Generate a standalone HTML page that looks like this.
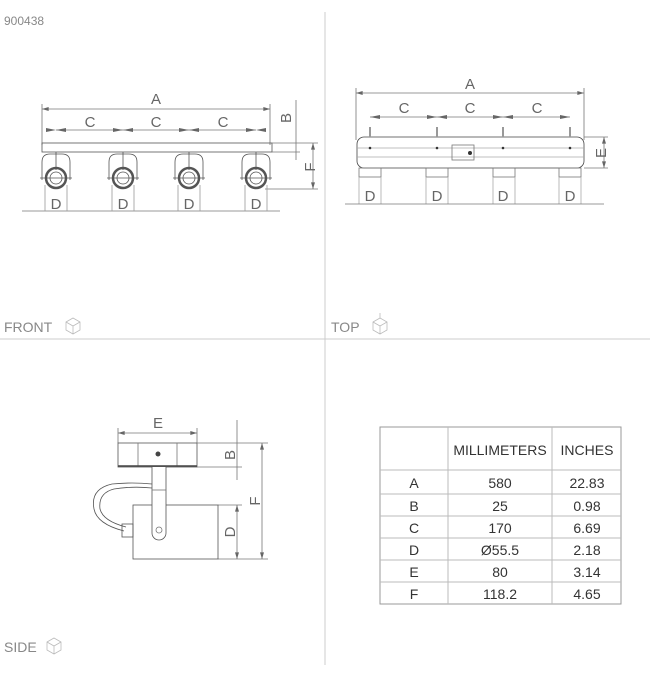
<!DOCTYPE html>
<html><head><style>
body{margin:0;background:#fff;}
svg{display:block;font-family:"Liberation Sans",sans-serif;}
</style></head><body>
<svg width="650" height="677" viewBox="0 0 650 677" xmlns="http://www.w3.org/2000/svg">
<defs>
<marker id="a" viewBox="0 0 10 6" refX="10" refY="3" markerWidth="10" markerHeight="4" orient="auto-start-reverse" markerUnits="userSpaceOnUse"><path d="M0,0 L10,3 L0,6z" fill="#666"/></marker>
</defs>
<g stroke="#ccc" stroke-width="1"><line x1="325" y1="12" x2="325" y2="665"/><line x1="0" y1="339" x2="650" y2="339"/></g>
<text x="4" y="25" font-size="12" fill="#888">900438</text>
<g font-size="14" fill="#888"><text x="4" y="332">FRONT</text><text x="331" y="332">TOP</text><text x="4" y="652">SIDE</text></g>
<g fill="none" stroke="#bbb" stroke-width="0.8"><path d="M66,322 l7,-4 l7,4 v8 l-7,4 l-7,-4z M66,322 l7,4 l7,-4 M73,326 v8"/><path d="M373,322 l7,-4 l7,4 v8 l-7,4 l-7,-4z M373,322 l7,4 l7,-4 M380,326 v8 M380,318 v-5"/><path d="M47,642 l7,-4 l7,4 v8 l-7,4 l-7,-4z M47,642 l7,4 l7,-4 M54,646 v8"/></g>

<!-- FRONT -->
<g stroke="#777" stroke-width="0.8" fill="none">
<line x1="42" y1="109" x2="270" y2="109" marker-start="url(#a)" marker-end="url(#a)"/>
<line x1="42" y1="104" x2="42" y2="145"/><line x1="270" y1="104" x2="270" y2="145"/>
<line x1="56" y1="130" x2="256" y2="130"/>
<path d="M56,130 l-10,-2 v4z M123,130 l10,-2 v4z M123,130 l-10,-2 v4z M189,130 l10,-2 v4z M189,130 l-10,-2 v4z M256,130 l10,-2 v4z" fill="#666" stroke="none"/>
<path d="M56,130 l10,-2 v4z M256,130 l-10,-2 v4z" fill="#666" stroke="none"/>
<rect x="42" y="143" width="230" height="9" stroke="#555"/>
<line x1="296" y1="100" x2="296" y2="160"/>
<line x1="272" y1="143" x2="318" y2="143"/><line x1="272" y1="152" x2="300" y2="152"/>
<line x1="313" y1="143" x2="313" y2="189" marker-start="url(#a)" marker-end="url(#a)"/>
<line x1="265" y1="189" x2="318" y2="189"/>
<line x1="22" y1="211" x2="280" y2="211"/>
</g>
<g stroke="#555" stroke-width="0.8" fill="none">
<g id="lamp"><path d="M42,180 v-18 q0,-8 8,-8 h12 q8,0 8,8 v18"/><line x1="56" y1="152" x2="56" y2="170"/><circle cx="56" cy="178" r="10" stroke-width="2.5"/><circle cx="56" cy="178" r="6"/><line x1="40" y1="178" x2="72" y2="178"/><line x1="45" y1="185" x2="45" y2="211" stroke="#999"/><line x1="67" y1="185" x2="67" y2="211" stroke="#999"/></g>
<use href="#lamp" x="67"/><use href="#lamp" x="133"/><use href="#lamp" x="200"/>
</g>
<g font-size="15" fill="#666" text-anchor="middle">
<text x="156" y="104">A</text><text x="90" y="127">C</text><text x="156" y="127">C</text><text x="223" y="127">C</text>
<text x="56" y="209">D</text><text x="123" y="209">D</text><text x="189" y="209">D</text><text x="256" y="209">D</text>
<text transform="translate(291,118) rotate(-90)">B</text><text transform="translate(315,167) rotate(-90)">F</text>
</g>

<!-- TOP -->
<g stroke="#777" stroke-width="0.8" fill="none">
<line x1="356" y1="93" x2="584" y2="93" marker-start="url(#a)" marker-end="url(#a)"/>
<line x1="356" y1="88" x2="356" y2="140"/><line x1="584" y1="88" x2="584" y2="140"/>
<line x1="370" y1="117" x2="570" y2="117"/>
<path d="M370,117 l10,-2 v4z M437,117 l-10,-2 v4z M437,117 l10,-2 v4z M503,117 l-10,-2 v4z M503,117 l10,-2 v4z M570,117 l-10,-2 v4z" fill="#666" stroke="none"/>
<rect x="357" y="137" width="227" height="31" rx="7" stroke="#444"/>
<line x1="357" y1="148" x2="584" y2="148" stroke="#aaa"/><line x1="357" y1="157" x2="584" y2="157" stroke="#aaa"/>
<rect x="452" y="145" width="22" height="15"/>
<path d="M370,127v10 M437,127v10 M503,127v10 M570,127v10" stroke="#999" stroke-width="2"/>
<rect x="359" y="168" width="22" height="9"/><rect x="426" y="168" width="22" height="9"/><rect x="493" y="168" width="22" height="9"/><rect x="559" y="168" width="22" height="9"/>
<path d="M359,177v27 M381,177v27 M426,177v27 M448,177v27 M493,177v27 M515,177v27 M559,177v27 M581,177v27" stroke="#aaa"/>
<line x1="345" y1="204" x2="604" y2="204"/>
<line x1="584" y1="137" x2="608" y2="137"/><line x1="584" y1="168" x2="608" y2="168"/>
<line x1="604" y1="137" x2="604" y2="168" marker-start="url(#a)" marker-end="url(#a)"/>
</g>
<g fill="#333"><circle cx="370" cy="148" r="1.3"/><circle cx="437" cy="148" r="1.3"/><circle cx="503" cy="148" r="1.3"/><circle cx="570" cy="148" r="1.3"/><circle cx="470" cy="153" r="2"/></g>
<g font-size="15" fill="#666" text-anchor="middle">
<text x="470" y="89">A</text><text x="404" y="113">C</text><text x="470" y="113">C</text><text x="537" y="113">C</text>
<text x="370" y="201">D</text><text x="437" y="201">D</text><text x="503" y="201">D</text><text x="570" y="201">D</text>
<text transform="translate(606,153) rotate(-90)">E</text>
</g>

<!-- SIDE -->
<g stroke="#777" stroke-width="0.8" fill="none">
<line x1="118" y1="433" x2="197" y2="433" marker-start="url(#a)" marker-end="url(#a)"/>
<line x1="118" y1="428" x2="118" y2="443"/><line x1="197" y1="428" x2="197" y2="443"/>
<rect x="118" y="443" width="79" height="24" stroke="#555"/>
<line x1="138" y1="443" x2="138" y2="467"/><line x1="177" y1="443" x2="177" y2="467"/>
<line x1="118" y1="466" x2="197" y2="466" stroke="#444" stroke-width="1.5"/>
<line x1="197" y1="443" x2="268" y2="443"/><line x1="197" y1="467" x2="242" y2="467"/>
<line x1="237" y1="420" x2="237" y2="480"/>
<line x1="262" y1="443" x2="262" y2="559" marker-start="url(#a)" marker-end="url(#a)"/>
<line x1="218" y1="505" x2="242" y2="505"/><line x1="218" y1="559" x2="268" y2="559"/>
<line x1="237" y1="505" x2="237" y2="559" marker-start="url(#a)" marker-end="url(#a)"/>
<rect x="133" y="505" width="85" height="54" stroke="#555"/>
<path d="M152,467 v66 a7,7 0 0 0 14,0 v-66" stroke="#555" fill="#fff"/>
<line x1="152" y1="490" x2="166" y2="490"/>
<circle cx="159" cy="530" r="3"/>
<path d="M152,484 q-20,-2 -40,0 q-22,5 -18,25 q3,15 30,22 M152,488 q-20,-2 -38,1 q-16,4 -14,20 q3,12 26,18" stroke="#555"/>
<rect x="122" y="524" width="11" height="13" stroke="#555"/>
</g>
<circle cx="158" cy="454" r="2.5" fill="#444"/>
<g font-size="15" fill="#666" text-anchor="middle">
<text x="158" y="428">E</text>
<text transform="translate(235,455) rotate(-90)">B</text>
<text transform="translate(260,501) rotate(-90)">F</text>
<text transform="translate(235,532) rotate(-90)">D</text>
</g>

<!-- TABLE -->
<g stroke="#bbb" stroke-width="1" fill="none">
<rect x="380" y="427" width="241" height="177" stroke="#999"/>
<line x1="448" y1="427" x2="448" y2="604"/><line x1="552" y1="427" x2="552" y2="604"/>
<line x1="380" y1="470" x2="621" y2="470"/><line x1="380" y1="494" x2="621" y2="494"/><line x1="380" y1="516" x2="621" y2="516"/><line x1="380" y1="538" x2="621" y2="538"/><line x1="380" y1="560" x2="621" y2="560"/><line x1="380" y1="582" x2="621" y2="582"/>
</g>
<g font-size="14" fill="#333" text-anchor="middle">
<text x="500" y="455">MILLIMETERS</text><text x="587" y="455">INCHES</text>
<text x="414" y="488">A</text><text x="500" y="488">580</text><text x="587" y="488">22.83</text>
<text x="414" y="511">B</text><text x="500" y="511">25</text><text x="587" y="511">0.98</text>
<text x="414" y="533">C</text><text x="500" y="533">170</text><text x="587" y="533">6.69</text>
<text x="414" y="555">D</text><text x="500" y="555">Ø55.5</text><text x="587" y="555">2.18</text>
<text x="414" y="577">E</text><text x="500" y="577">80</text><text x="587" y="577">3.14</text>
<text x="414" y="599">F</text><text x="500" y="599">118.2</text><text x="587" y="599">4.65</text>
</g>
</svg>
</body></html>
